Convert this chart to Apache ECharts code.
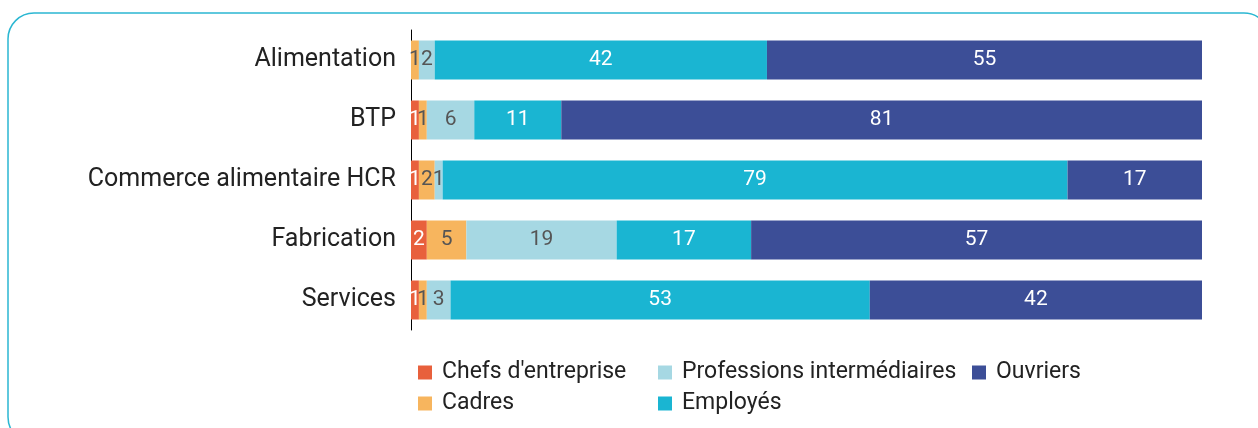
<!DOCTYPE html>
<html>
<head>
<meta charset="utf-8">
<script src="https://cdn.jsdelivr.net/npm/echarts@6/dist/echarts.min.js"></script>
<style>
  html, body { margin: 0; padding: 0; background: #fff; }
  #chart { width: 1258px; height: 428px; }
</style>
</head>
<body>
<div id="chart"></div>
<script>
const categories = ['Alimentation', 'BTP', 'Commerce alimentaire HCR', 'Fabrication', 'Services']
const chefs = [0, 1, 1, 2, 1]
const cadres = [1, 1, 2, 5, 1]
const professions = [2, 6, 1, 19, 3]
const employes = [42, 11, 79, 17, 53]
const ouvriers = [55, 81, 17, 57, 42]

const FONT = 'Roboto'

const makeSeries = (name, data, color, labelColor) => ({
  name,
  type: 'bar',
  stack: 'total',
  barWidth: 39,
  data,
  itemStyle: { color },
  label: {
    show: true,
    position: 'inside',
    color: labelColor,
    fontFamily: FONT,
    fontSize: 21,
    padding: [2, 0, 0, 0],
    formatter: p => (p.value ? String(p.value) : '')
  }
})

const legendBase = {
  orient: 'vertical',
  icon: 'rect',
  padding: 0,
  itemWidth: 14,
  itemHeight: 14,
  itemGap: 6,
  top: 360,
  height: 60,
  textStyle: {
    fontFamily: FONT,
    fontSize: 23,
    lineHeight: 25,
    color: '#222',
    padding: [0, 0, 0, 5]
  }
}

const chart = echarts.init(document.getElementById('chart'))
chart.setOption({
  animation: false,
  graphic: [{
    type: 'rect',
    shape: { x: 8, y: 13, width: 1262, height: 430, r: 26 },
    style: { fill: 'none', stroke: '#2bb7d2', lineWidth: 1.5 },
    z: -1
  }],
  grid: { left: 411, right: 56, top: 30, height: 300 },
  legend: [
    Object.assign({ left: 418, data: ['Chefs d\'entreprise', 'Cadres'] }, legendBase),
    Object.assign({ left: 658, data: ['Professions intermédiaires', 'Employés'] }, legendBase),
    Object.assign({ left: 972, data: ['Ouvriers'] }, legendBase)
  ],
  xAxis: {
    type: 'value',
    min: 0,
    max: 100,
    show: false
  },
  yAxis: {
    type: 'category',
    inverse: true,
    data: categories,
    axisLine: { show: true, lineStyle: { color: '#000', width: 1 } },
    axisTick: { show: false },
    axisLabel: {
      fontFamily: FONT,
      fontSize: 25,
      color: '#222',
      margin: 15,
      padding: [4, 0, 0, 0]
    }
  },
  series: [
    makeSeries('Chefs d\'entreprise', chefs, '#e8603c', '#fff'),
    makeSeries('Cadres', cadres, '#f7b55e', '#555'),
    makeSeries('Professions intermédiaires', professions, '#a6d8e3', '#555'),
    makeSeries('Employés', employes, '#1ab5d2', '#fff'),
    makeSeries('Ouvriers', ouvriers, '#3c4e97', '#fff')
  ]
})
</script>
</body>
</html>
